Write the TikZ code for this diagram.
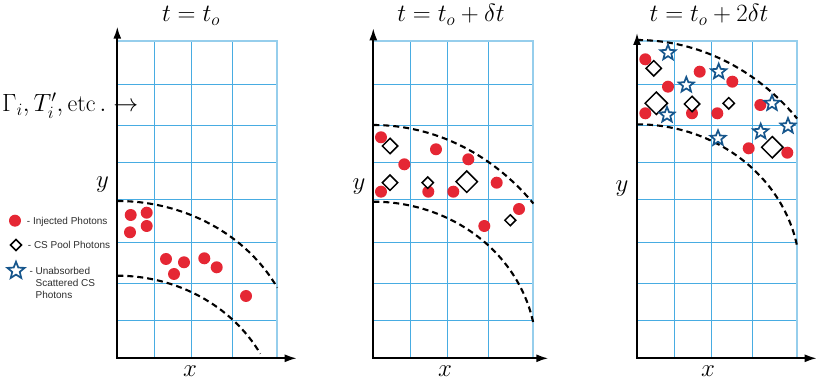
\documentclass[tikz,border=0pt]{standalone}
\usepackage{amsmath}
\usepackage{fontspec}
\newfontfamily\keyfont{Liberation Sans}
\usetikzlibrary{arrows.meta,shapes.geometric}
\definecolor{gridBlue}{RGB}{72, 172, 226}
\definecolor{gridEdge}{RGB}{150, 206, 236}
\definecolor{photonRed}{RGB}{229, 39, 52}
\definecolor{starBlue}{RGB}{22, 86, 140}
\definecolor{keyGray}{RGB}{45, 45, 45}

\begin{document}
\begin{tikzpicture}[
    x=1pt, y=1pt,
    gridline/.style={draw=gridBlue, line width=1pt},
    gridedge/.style={draw=gridEdge, line width=2pt},
    axis/.style={{Latex[length=12pt,width=8pt]}-{Latex[length=12pt,width=8pt]}, line width=1.8pt, color=black},
    wave/.style={draw=black, line width=2.1pt, dash pattern=on 6pt off 4pt},
    injected/.style={circle, fill=photonRed, minimum size=12pt, inner sep=0pt},
    pool/.style={diamond, draw=black, fill=white, line width=1.5pt, inner sep=0pt, minimum size=#1},
    pool/.default=16pt,
    scattered/.style={star, star points=5, star point ratio=2.3, draw=starBlue, fill=white, line width=1.7pt, minimum size=16pt, inner sep=0pt},
    title/.style={font=\fontsize{23pt}{27pt}\selectfont},
    axlabel/.style={font=\fontsize{24pt}{28pt}\selectfont},
    keytext/.style={font=\keyfont\fontsize{10pt}{12.2pt}\selectfont, text=keyGray, align=left, inner sep=0pt}
  ]
  \useasboundingbox (0,0) rectangle (830,388);

  % GRIDS
  \foreach \ox in {117.3, 373.3, 637} {
    \foreach \gx in {37, 74, 115}
      \draw[gridline] (\ox+\gx, 29.7) -- (\ox+\gx, 347.3);
    \foreach \gy in {37.5, 75, 116, 159, 196, 233, 274}
      \draw[gridline] (\ox, 29.7+\gy) -- (\ox+160, 29.7+\gy);
    \draw[gridedge] (\ox, 347.3) -- (\ox+160, 347.3) -- (\ox+160, 29.7);
  }

  % AXES
  \draw[axis] (117.3, 361.3) |- (296.7, 29.7);
  \draw[axis] (373.3, 359.7) |- (548.3, 29.7);
  \draw[axis] (637, 355) |- (816.7, 29.7);

  \node[title, anchor=base] (titleA) at (191, 366) {$t = t_o$};
  \node[title, anchor=base] (titleB) at (451, 366) {$t = t_o + \delta t$};
  \node[title, anchor=base] (titleC) at (709, 366) {$t = t_o + 2\delta t$};

  \node[axlabel, anchor=base] (yA) at (102.5, 200.5) {$y$};
  \node[axlabel, anchor=base] (yB) at (359, 198.5) {$y$};
  \node[axlabel, anchor=base] (yC) at (622, 196.5) {$y$};
  \node[axlabel, anchor=base] (xA) at (190, 11) {$x$};
  \node[axlabel, anchor=base] (xB) at (445, 11) {$x$};
  \node[axlabel, anchor=base] (xC) at (708, 11) {$x$};

  \node[anchor=base west, inner sep=0pt, font=\fontsize{24pt}{28pt}\selectfont] (params) at (2, 276)
    {$\Gamma_i, T_i', \mathrm{etc}\,.\rightarrow$};

  % WAVE FRONTS
  \draw[wave] (117.3, 187) arc[start angle=90, end angle=27.3, x radius=180, y radius=160];
  \draw[wave] (117.3, 112.3) arc[start angle=90, end angle=28.7, x radius=163, y radius=150];
  \draw[wave] (373.3, 263) arc[start angle=90, end angle=43.3, x radius=220, y radius=250];
  \draw[wave] (373.3, 186.3) arc[start angle=90, end angle=11, x radius=163, y radius=150];
  \draw[wave] (637, 348) arc[start angle=90, end angle=43.3, x radius=220, y radius=250];
  \draw[wave] (637, 263.7) arc[start angle=90, end angle=11, x radius=163, y radius=150];

  % PHOTONS, t = t_o
  \foreach \px/\py [count=\k] in {130.7/173, 146.7/175.3, 130/155.7, 146.7/162, 166/129,
      184/125.7, 174/114, 204.3/129.7, 216.7/120.7, 246/92}
    \node[injected] (redA\k) at (\px, \py) {};

  % PHOTONS, t = t_o + dt
  \foreach \px/\py [count=\k] in {381/250.7, 404.3/223.7, 436/238.7, 468.3/228.7, 496.7/205.3,
      381/196.3, 428.3/196.3, 453.3/196.3, 519/179, 484.3/162}
    \node[injected] (redB\k) at (\px, \py) {};
  \foreach \px/\py/\sz [count=\k] in {390/242/16pt, 390/205.3/16pt, 427.7/205.3/12pt,
      466.7/206.3/22pt, 510.3/167.7/11.5pt}
    \node[pool=\sz] (poolB\k) at (\px, \py) {};

  % PHOTONS, t = t_o + 2dt
  \foreach \px/\py [count=\k] in {645.3/328.7, 699.7/316.3, 668/301.3, 732.3/306.3, 645.3/274.7,
      692/274.7, 717.3/274.7, 760.3/283, 748.7/239.7, 787.3/235.3}
    \node[injected] (redC\k) at (\px, \py) {};
  \foreach \px/\py/\sz [count=\k] in {653.7/319.7/16pt, 656.3/284.7/23pt, 692/284/16pt,
      728.7/284.7/12pt, 772.3/240.7/22pt}
    \node[pool=\sz] (poolC\k) at (\px, \py) {};
  \foreach \px/\py [count=\k] in {668/335.3, 718.7/316.3, 686.3/303, 667/273, 772/284.7,
      718/249.7, 760.7/256.3, 788/262}
    \node[scattered] (starC\k) at (\px, \py) {};

  % KEY
  \node[injected] (keyRed) at (15, 167.3) {};
  \node[pool=11.6pt] (keyPool) at (16, 143) {};
  \node[scattered, minimum size=18pt] (keyStar) at (16, 117.3) {};
  \node[keytext, anchor=base west] (keyRedText) at (26.7, 163.5) {- Injected Photons};
  \node[keytext, anchor=base west] (keyPoolText) at (27.7, 139.2) {- CS Pool Photons};
  \node[keytext, anchor=base west] (keyStarText) at (29.3, 113.5)
    {- \begin{tabular}[t]{@{}l@{}}Unabsorbed\\Scattered CS\\Photons\end{tabular}};
\end{tikzpicture}
\end{document}
